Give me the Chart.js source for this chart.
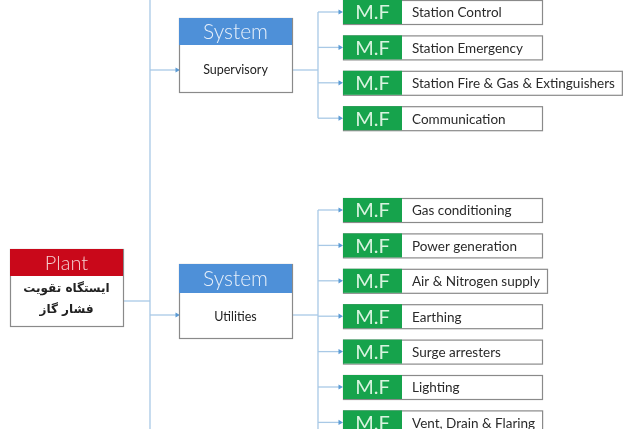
<!DOCTYPE html>
<html><head><meta charset="utf-8">
<script src="https://cdn.jsdelivr.net/npm/chart.js@4.4.1/dist/chart.umd.min.js"></script>
<style>html,body{margin:0;padding:0;background:#fff}#wrap{width:624px;height:429px}</style>
</head><body><div id="wrap"><canvas id="c" width="624" height="429"></canvas></div>
<script>
// ---- content ----
const plantTitle = "Plant";
const plantName = ["ایستگاه تقویت", "فشار گاز"];
const systemTitle = "System";
const systemNames = ["Supervisory", "Utilities"];
const functionTag = "M.F";
const supervisoryFunctions = ["Station Control", "Station Emergency", "Station Fire & Gas & Extinguishers", "Communication"];
const utilitiesFunctions = ["Gas conditioning", "Power generation", "Air & Nitrogen supply", "Earthing", "Surge arresters", "Lighting", "Vent, Drain & Flaring"];

// ---- layout (diagram geometry in axis units) ----
const L = {
  plant: {x0: 10, x1: 123, h0: 249, h1: 276, b1: 326, link: 301},
  trunkX: 150,
  sys: [{x0: 179, x1: 292, h0: 18, h1: 45, b1: 92, link: 70, firstRow: 12},
        {x0: 179, x1: 292, h0: 264, h1: 293, b1: 338, link: 315, firstRow: 210}],
  busX: 318, rowStep: 35.4, rowH: 24,
  tagX0: 343, tagX1: 402, labelMinRight: 542
};
const groups = [supervisoryFunctions, utilitiesFunctions];
const lineColor = "#a9c9e6";

// connector datasets built from the layout
const datasets = [];
function seg(pts, arrow) {
  datasets.push({type: 'line', data: pts.map(p => ({x: p[0], y: p[1]})), borderColor: lineColor, borderWidth: 1.3,
    pointRadius: pts.map((p, i) => (arrow && i === pts.length - 1) ? 3 : 0),
    pointStyle: 'triangle', rotation: 90, pointBackgroundColor: '#5b9bd5', pointBorderWidth: 0, tension: 0, fill: false});
}
seg([[L.trunkX, -5], [L.trunkX, 440]], false);
seg([[L.plant.x1, L.plant.link], [L.trunkX, L.plant.link]], false);
L.sys.forEach((s, gi) => {
  seg([[L.trunkX, s.link], [s.x0 - 2, s.link]], true);
  seg([[s.x1, s.link], [L.busX, s.link]], false);
  const n = groups[gi].length;
  const last = s.firstRow + (n - 1) * L.rowStep;
  seg([[L.busX, s.firstRow], [L.busX, gi === 1 ? 440 : last]], false);
  groups[gi].forEach((f, i) => {
    const y = s.firstRow + i * L.rowStep;
    seg([[L.busX, y], [L.tagX0 - 3, y]], true);
  });
});

const boxPlugin = {
  id: 'boxes',
  afterDatasetsDraw(chart) {
    const ctx = chart.ctx, xs = chart.scales.x, ys = chart.scales.y;
    const X = v => xs.getPixelForValue(v), Y = v => ys.getPixelForValue(v);
    function rect(x0, y0, x1, y1, fill, stroke) {
      ctx.save();
      ctx.fillStyle = fill; ctx.fillRect(X(x0), Y(y0), X(x1) - X(x0), Y(y1) - Y(y0));
      if (stroke) { ctx.strokeStyle = stroke; ctx.lineWidth = 1.2; ctx.strokeRect(X(x0) + .5, Y(y0) + .5, X(x1) - X(x0), Y(y1) - Y(y0)); }
      ctx.restore();
    }
    function text(t, x, y, font, color, align) {
      ctx.save(); ctx.font = font; ctx.fillStyle = color; ctx.textAlign = align || 'center'; ctx.textBaseline = 'middle';
      ctx.fillText(t, X(x), Y(y)); ctx.restore();
    }
    // plant
    const p = L.plant;
    rect(p.x0, p.h0, p.x1, p.b1, '#ffffff', '#8a8a8a');
    rect(p.x0, p.h0, p.x1, p.h1, '#c9081a');
    text(plantTitle, (p.x0 + p.x1) / 2, (p.h0 + p.h1) / 2 + 1, '300 20px Lato', '#f4d0d0');
    ctx.save(); ctx.direction = 'rtl';
    text(plantName[0], (p.x0 + p.x1) / 2, p.h1 + 13, 'bold 12px "DejaVu Sans"', '#222');
    text(plantName[1], (p.x0 + p.x1) / 2, p.h1 + 34, 'bold 12px "DejaVu Sans"', '#222');
    ctx.restore();
    // systems + functions
    L.sys.forEach((s, gi) => {
      rect(s.x0, s.h0, s.x1, s.b1, '#ffffff', '#8a8a8a');
      rect(s.x0, s.h0, s.x1, s.h1, '#4e90d8');
      text(systemTitle, (s.x0 + s.x1) / 2, (s.h0 + s.h1) / 2 + 1, '300 21px Lato', '#e6effa');
      text(systemNames[gi], (s.x0 + s.x1) / 2, (s.h1 + s.b1) / 2 + 1, '12.5px Lato', '#222');
      groups[gi].forEach((f, i) => {
        const yc = s.firstRow + i * L.rowStep, y0 = yc - L.rowH / 2, y1 = yc + L.rowH / 2;
        ctx.save(); ctx.font = '13.5px Lato'; const w = ctx.measureText(f).width; ctx.restore();
        const right = Math.max(L.labelMinRight, L.tagX1 + 10 + (xs.getValueForPixel(X(0) + w) - 0) + 7);
        rect(L.tagX0, y0, right, y1, '#ffffff', '#8a8a8a');
        rect(L.tagX0, y0, L.tagX1, y1, '#16a34c');
        text(functionTag, (L.tagX0 + L.tagX1) / 2, yc + 1, '20px Lato', '#d8f3df');
        text(f, L.tagX1 + 10, yc + 1, '13.5px Lato', '#2a2a2a', 'left');
      });
    });
  }
};

new Chart(document.getElementById('c'), {
  type: 'scatter',
  data: {datasets},
  options: {
    responsive: false, animation: false, devicePixelRatio: 1,
    layout: {padding: 0, autoPadding: false},
    plugins: {legend: {display: false}, tooltip: {enabled: false}},
    scales: {
      x: {type: 'linear', min: 0, max: 624, display: false},
      y: {type: 'linear', min: 0, max: 429, reverse: true, display: false}
    }
  },
  plugins: [boxPlugin]
});
</script></body></html>
